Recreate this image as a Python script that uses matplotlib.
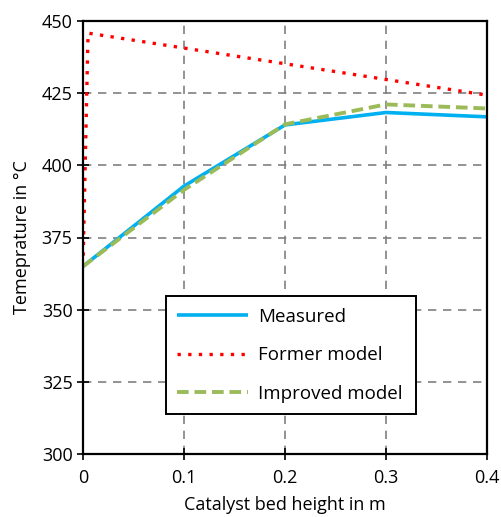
import matplotlib.pyplot as plt

plt.rcParams['font.family'] = ['Open Sans', 'DejaVu Sans']

# data
height_measured = [0.0, 0.1, 0.2, 0.3, 0.4]
temp_measured = [365.0, 392.8, 414.0, 418.3, 416.8]

height_former = [0.0, 0.005, 0.4]
temp_former = [365.0, 445.8, 424.3]

height_improved = [0.0, 0.1, 0.2, 0.3, 0.4]
temp_improved = [365.0, 391.5, 414.2, 421.1, 419.7]

x_ticks = [0, 0.1, 0.2, 0.3, 0.4]
x_tick_labels = ['0', '0.1', '0.2', '0.3', '0.4']
y_ticks = [300, 325, 350, 375, 400, 425, 450]

fig = plt.figure(figsize=(5.01, 5.17), dpi=100)
ax = fig.add_axes([83 / 501, 1 - 454 / 517, 404 / 501, 433 / 517])

ax.plot(height_measured, temp_measured, color='#00B0F0', lw=2.6,
        label='Measured', solid_capstyle='butt')
ax.plot(height_former, temp_former, color='#FF0000', lw=2.4,
        linestyle=(0, (1, 2.2)), label='Former model')
ax.plot(height_improved, temp_improved, color='#9BBB59', lw=2.8,
        linestyle=(0, (3, 1.5)), label='Improved model')

ax.set_xlim(0, 0.4)
ax.set_ylim(300, 450)
ax.set_xticks(x_ticks)
ax.set_xticklabels(x_tick_labels)
ax.set_yticks(y_ticks)
ax.grid(True, color='#808080', linestyle=(0, (5, 4)), lw=1.2)
ax.tick_params(direction='inout', length=8, width=1.2, labelsize=13, colors='black')
ax.tick_params(axis='x', pad=7)
for sp in ax.spines.values():
    sp.set_linewidth(1.6)
    sp.set_color('black')

ax.set_xlabel('Catalyst bed height in m', fontsize=13, labelpad=6)
ax.set_ylabel('Temeprature in °C', fontsize=13, labelpad=8)

leg = ax.legend(loc='lower left', bbox_to_anchor=(0.205, 0.092, 0.619, 0.275),
                mode='expand', fontsize=13.5, handlelength=3.8, labelspacing=1.1,
                handletextpad=0.5, fancybox=False, framealpha=1, edgecolor='black',
                borderaxespad=0, borderpad=0.6)
leg.get_frame().set_linewidth(1.4)

fig.savefig('out.png', dpi=100)
